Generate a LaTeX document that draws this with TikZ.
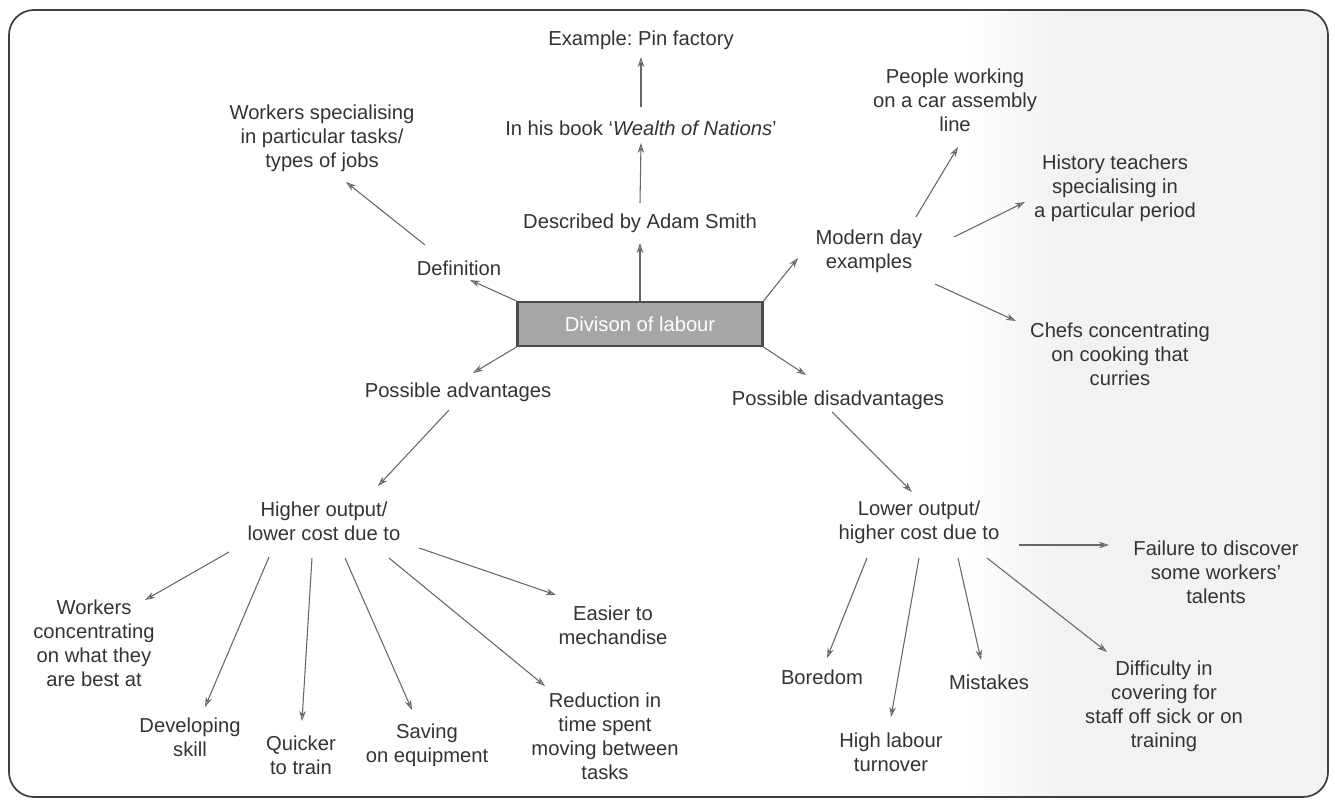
\documentclass[tikz,border=0pt]{standalone}
\usepackage{fontspec}
\setmainfont{Liberation Sans}
\usetikzlibrary{arrows.meta,calc}
\frenchspacing
\begin{document}
\begin{tikzpicture}[x=0.02cm,y=-0.02cm,
  every node/.style={inner sep=0pt, align=center, text=black!80, font=\fontsize{11.5}{13.7}\selectfont},
  link/.style={draw=black!60, line width=0.6pt, -{Stealth[open,length=2mm,width=1.3mm]}},
  mainbox/.style={draw=black!70, line width=1.2pt, fill=black!35, text=white, minimum width=4.9cm, minimum height=0.88cm}]
\useasboundingbox (0,0) rectangle (1335,807);
\begin{scope}
\clip [rounded corners=0.5cm] (9,10) rectangle (1328,797);
\shade [left color=white, right color=black!5] (960,0) rectangle (1060,807);
\fill [black!5] (1059,0) rectangle (1335,807);
\end{scope}
\draw [black!75, line width=1pt, rounded corners=0.5cm] (9,10) rectangle (1328,797);
\node [mainbox] (dol) at (640,324) {Divison of labour};
\node (ex) at (641,40) {Example: Pin factory};
\node (book) at (641,128) {In his book `\textit{Wealth of Nations}'};
\node (smith) at (640,223) {Described by Adam Smith};
\node (defn) at (459,268) {Definition};
\node (spec) at (322,138) {Workers specialising\\in particular tasks/\\types of jobs};
\node (modern) at (869,251) {Modern day\\examples};
\node (people) at (955,100) {People working\\on a car assembly\\line};
\node (hist) at (1115,188) {History teachers\\specialising in\\a particular period};
\node (chefs) at (1120,354) {Chefs concentrating\\on cooking that\\curries};
\node (adv) at (458,392) {Possible advantages};
\node (disadv) at (838,400) {Possible disadvantages};
\node (hi) at (324,521) {Higher output/\\lower cost due to};
\node (lo) at (919,522) {Lower output/\\higher cost due to};
\node (wconc) at (94,643) {Workers\\concentrating\\on what they\\are best at};
\node (dev) at (190,737) {Developing\\skill};
\node (quick) at (301,755) {Quicker\\to train};
\node (save) at (427,745) {Saving\\on equipment};
\node (reduc) at (605,736) {Reduction in\\time spent\\moving between\\tasks};
\node (easier) at (613,625) {Easier to\\mechandise};
\node (fail) at (1216,572) {Failure to discover\\some workers'\\talents};
\node (bore) at (822,677) {Boredom};
\node (high) at (891,752) {High labour\\turnover};
\node (mist) at (989,682) {Mistakes};
\node (diff) at (1164,706) {Difficulty in\\covering for\\staff off sick or on\\training};
\draw [link] (dol.north) -- ($(smith)+(0,20)$);
\draw [link] ($(smith)+(0,-20)$) -- ($(book)+(0,15)$);
\draw [link] ($(book)+(0,-21)$) -- ($(ex)+(0,17)$);
\draw [link] (dol.north west) -- ($(defn)+(11,12)$);
\draw [link] ($(defn)+(-34,-23)$) -- ($(spec)+(24,44)$);
\draw [link] (dol.south west) -- ($(adv)+(15,-19)$);
\draw [link] (dol.north east) -- ($(modern)+(-71,7)$);
\draw [link] ($(modern)+(47,-34)$) -- ($(people)+(3,47)$);
\draw [link] ($(modern)+(85,-14)$) -- ($(hist)+(-90,14)$);
\draw [link] ($(modern)+(66,33)$) -- ($(chefs)+(-104,-33)$);
\draw [link] (dol.south east) -- ($(disadv)+(-32,-25)$);
\draw [link] ($(adv)+(-9,18)$) -- ($(hi)+(54,-35)$);
\draw [link] ($(disadv)+(-6,12)$) -- ($(lo)+(-7,-30)$);
\draw [link] ($(hi)+(-95,31)$) -- ($(wconc)+(51,-43)$);
\draw [link] ($(hi)+(-55,36)$) -- ($(dev)+(15,-30)$);
\draw [link] ($(hi)+(-12,37)$) -- ($(quick)+(1,-34)$);
\draw [link] ($(hi)+(21,37)$) -- ($(save)+(-15,-35)$);
\draw [link] ($(hi)+(65,37)$) -- ($(reduc)+(-60,-50)$);
\draw [link] ($(hi)+(95,27)$) -- ($(easier)+(-57,-30)$);
\draw [link] ($(lo)+(100,23)$) -- ($(fail)+(-107,-27)$);
\draw [link] ($(lo)+(-52,36)$) -- ($(bore)+(5,-19)$);
\draw [link] ($(lo)+(0,36)$) -- ($(high)+(0,-35)$);
\draw [link] ($(lo)+(39,36)$) -- ($(mist)+(-8,-22)$);
\draw [link] ($(lo)+(68,36)$) -- ($(diff)+(-57,-54)$);
\end{tikzpicture}
\end{document}
